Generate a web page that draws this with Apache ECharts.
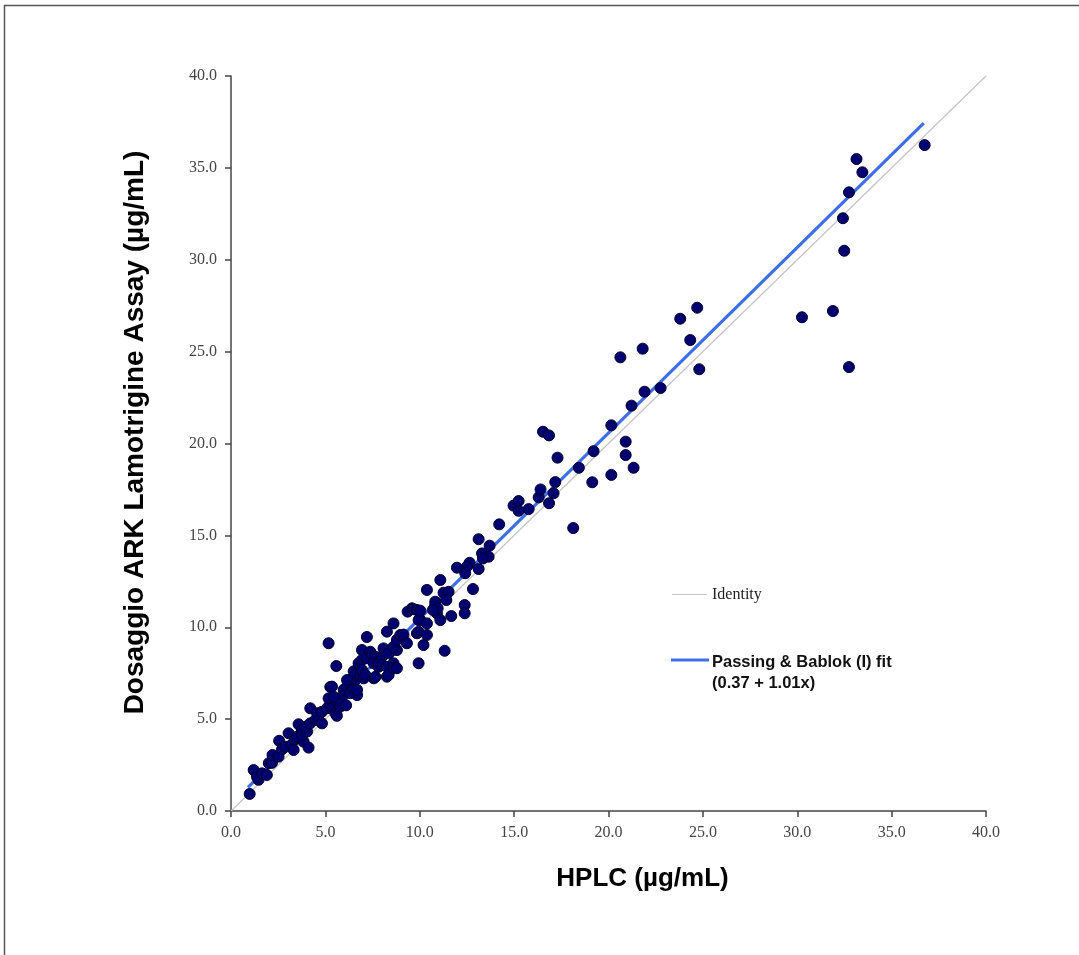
<!DOCTYPE html>
<html>
<head>
<meta charset="utf-8">
<script src="https://cdn.jsdelivr.net/npm/echarts@6/dist/echarts.min.js"></script>
<style>
html,body{margin:0;padding:0;background:#fff;}
#chart{width:1079px;height:955px;}
</style>
</head>
<body>
<div id="chart"></div>
<script>
// Axis tick values
var xTicks = [0, 5, 10, 15, 20, 25, 30, 35, 40];
var yTicks = [0, 5, 10, 15, 20, 25, 30, 35, 40];

// HPLC (x) values of samples
var hplc = [
  0.99,1.2,1.46,1.38,1.64,1.9,2.0,2.17,2.2,2.52,2.55,2.7,2.88,3.05,3.2,3.32,3.4,3.5,3.58,3.76,3.85,3.76,4.03,4.11,3.94,4.2,4.2,4.47,4.56,4.64,4.82,4.82,
  5.09,5.26,5.17,5.26,5.35,5.35,5.53,5.61,5.53,5.79,5.79,5.97,5.97,6.15,6.1,6.41,6.59,6.68,6.32,6.5,6.32,6.5,6.15,6.85,6.76,6.76,6.94,6.94,6.94,7.03,7.12,7.2,7.2,5.17,5.58,5.44,6.68,
  7.38,7.47,7.65,7.56,7.56,7.65,7.82,7.82,8.0,8.0,8.08,8.26,8.26,8.35,8.44,8.35,8.61,8.61,8.79,8.79,8.61,8.79,8.97,8.26,8.61,9.14,9.32,9.36,9.59,9.67,9.85,10.03,9.94,9.85,9.94,10.38,10.38,10.2,9.94,10.38,10.03,
  10.82,10.91,10.82,10.95,10.7,11.09,11.26,11.53,11.41,11.09,11.67,11.32,12.38,12.38,11.97,12.64,12.5,12.41,12.82,13.12,13.12,13.7,13.3,13.65,13.35,14.21,
  14.97,15.24,15.24,15.77,16.3,16.4,16.85,17.09,17.18,16.53,16.85,17.3,18.13,18.43,19.14,19.21,20.15,20.15,20.63,20.91,20.91,21.22,21.33,21.81,21.91,22.76,23.8,24.33,24.7,24.81,
  30.25,31.89,32.42,32.49,32.74,32.74,33.14,33.45,36.75
];
// Dosaggio ARK (y) values of samples
var ark = [
  0.93,2.23,1.7,1.85,2.05,1.96,2.6,2.62,3.05,2.96,3.82,3.35,3.5,4.23,3.6,3.32,3.9,4.05,4.72,4.41,3.77,4.14,4.32,3.45,4.59,4.77,5.59,4.95,5.32,4.95,5.4,4.77,
  5.59,5.86,6.13,6.75,5.59,6.77,5.32,5.18,6.04,5.68,6.04,6.31,6.6,6.77,5.75,6.49,7.13,6.31,6.41,6.68,7.13,7.6,7.13,7.31,7.85,8.04,8.22,8.76,7.67,7.22,7.4,8.31,9.47,9.13,7.89,6.22,6.59,
  8.67,8.49,8.4,8.04,7.22,7.3,7.85,8.04,8.4,7.95,8.85,7.85,7.31,7.4,8.67,8.58,8.04,7.77,7.77,8.76,8.94,9.31,9.58,9.76,10.21,9.6,9.13,10.85,11.03,10.98,10.94,10.39,10.39,9.67,9.76,10.21,9.58,9.03,8.04,12.03,10.9,
  11.21,10.76,11.39,11.03,10.94,10.39,11.88,11.93,11.48,12.57,10.61,8.72,11.21,10.76,13.24,13.51,13.3,12.94,12.08,13.17,14.79,14.44,14.02,13.84,13.75,15.6,
  16.62,16.87,16.34,16.43,17.07,17.5,16.75,17.29,17.9,20.64,20.44,19.23,15.4,18.68,17.89,19.58,20.99,18.29,24.69,20.1,19.37,22.06,18.68,25.16,22.82,23.02,26.79,25.63,27.39,24.04,
  26.87,27.21,32.26,30.49,33.67,24.16,35.48,34.76,36.24
];
// Identity line endpoints
var identityX = [0, 40];
var identityY = [0, 40];
// Passing & Bablok fit line endpoints (0.37 + 1.01x)
var fitX = [0.9, 36.7];
var fitY = [1.28, 37.44];

var points = hplc.map(function (v, i) { return [v, ark[i]]; });
var identityData = identityX.map(function (v, i) { return [v, identityY[i]]; });
var fitData = fitX.map(function (v, i) { return [v, fitY[i]]; });

var chart = echarts.init(document.getElementById('chart'), null, {renderer: 'canvas'});
var labelStyle = {
  fontFamily: '"Liberation Serif", "Times New Roman", serif',
  fontSize: 16,
  color: '#444',
  margin: 14,
  formatter: function (v) { return v.toFixed(1); }
};
chart.setOption({
  animation: false,
  backgroundColor: '#ffffff',
  grid: {left: 231, top: 76, right: 93, bottom: 144, containLabel: false},
  xAxis: {
    type: 'value', min: xTicks[0], max: xTicks[xTicks.length - 1], interval: xTicks[1] - xTicks[0],
    name: 'HPLC (µg/mL)', nameLocation: 'middle', nameGap: 55,
    nameTextStyle: {fontFamily: '"Liberation Sans", Arial, sans-serif', fontWeight: 'bold', fontSize: 26, color: '#000', padding: [0, 0, 0, 68]},
    axisLine: {show: true, lineStyle: {color: '#444', width: 1.5}},
    axisTick: {show: true, inside: false, length: 6, lineStyle: {color: '#444', width: 1.5}},
    axisLabel: labelStyle,
    splitLine: {show: false}
  },
  yAxis: {
    type: 'value', min: yTicks[0], max: yTicks[yTicks.length - 1], interval: yTicks[1] - yTicks[0],
    name: 'Dosaggio ARK Lamotrigine Assay (µg/mL)', nameLocation: 'middle', nameGap: 82, nameRotate: 90,
    nameTextStyle: {fontFamily: '"Liberation Sans", Arial, sans-serif', fontWeight: 'bold', fontSize: 28, color: '#000', padding: [0, 0, 0, 22]},
    axisLine: {show: true, lineStyle: {color: '#444', width: 1.5}},
    axisTick: {show: true, inside: false, length: 6, lineStyle: {color: '#444', width: 1.5}},
    axisLabel: labelStyle,
    splitLine: {show: false}
  },
  series: [
    {
      name: 'Identity', type: 'line', data: identityData, symbol: 'none', silent: true,
      lineStyle: {color: '#c4c4c4', width: 1.2}, z: 1
    },
    {
      name: 'Passing & Bablok (I) fit', type: 'line', data: fitData, symbol: 'none', silent: true,
      lineStyle: {color: '#3f6fe6', width: 3.2}, z: 2
    },
    {
      name: 'Samples', type: 'scatter', data: points, symbol: 'circle', symbolSize: 11,
      itemStyle: {color: '#00006e', borderColor: '#00002e', borderWidth: 1, opacity: 1}, z: 5
    }
  ],
  graphic: [
    {type: 'rect', shape: {x: 4.5, y: 5.5, width: 1200, height: 1200}, style: {fill: null, stroke: '#555', lineWidth: 1.5}, silent: true},
    {type: 'line', shape: {x1: 672, y1: 594.5, x2: 707, y2: 594.5}, style: {stroke: '#c4c4c4', lineWidth: 1.2}},
    {type: 'text', x: 712, y: 595, style: {text: 'Identity', font: '16px "Liberation Serif", serif', fill: '#222', verticalAlign: 'middle'}},
    {type: 'line', shape: {x1: 671, y1: 660, x2: 709, y2: 660}, style: {stroke: '#3f6fe6', lineWidth: 3.2}},
    {type: 'text', x: 712, y: 662, style: {text: 'Passing & Bablok (I) fit', font: 'bold 16.5px "Liberation Sans", Arial, sans-serif', fill: '#111', verticalAlign: 'middle'}},
    {type: 'text', x: 712, y: 683, style: {text: '(0.37 + 1.01x)', font: 'bold 16.5px "Liberation Sans", Arial, sans-serif', fill: '#111', verticalAlign: 'middle'}}
  ]
});
</script>
</body>
</html>
